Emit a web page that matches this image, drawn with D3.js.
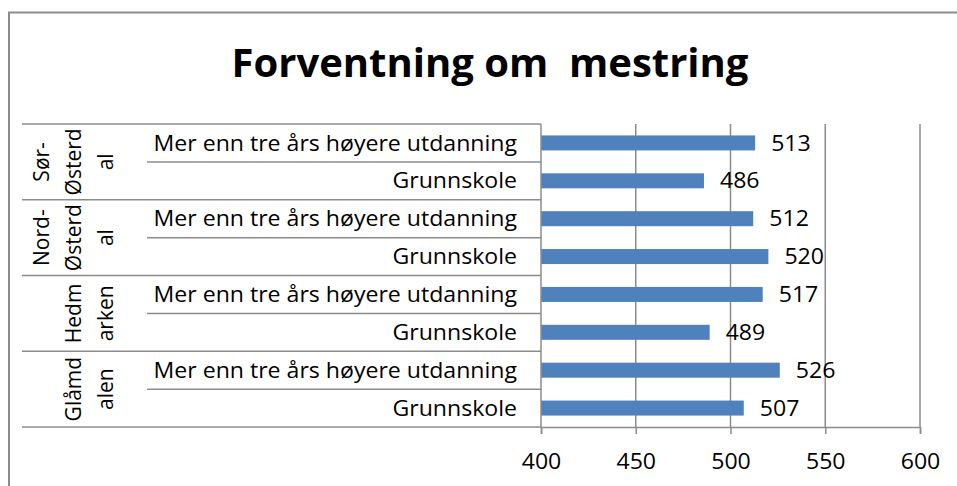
<!DOCTYPE html>
<html>
<head>
<meta charset="utf-8">
<script src="https://cdn.jsdelivr.net/npm/d3@7"></script>
<style>
  html, body { margin: 0; padding: 0; background: #fff; }
  svg { display: block; }
  text { font-family: "Open Sans", Lato, sans-serif; fill: #000; }
</style>
</head>
<body>
<svg id="chart" width="957" height="486"></svg>
<script>
// Regions and education levels
const regions = ["Sør-Østerdal", "Nord-Østerdal", "Hedmarken", "Glåmdalen"];
const regionLines = [["Sør-", "Østerd", "al"], ["Nord-", "Østerd", "al"], ["Hedm", "arken"], ["Glåmd", "alen"]];
const levels = ["Mer enn tre års høyere utdanning", "Grunnskole"];
// Scores per region, in the order of `levels`
const values = [
  [513, 486],
  [512, 520],
  [517, 489],
  [526, 507]
];
const xTicks = [400, 450, 500, 550, 600];
const title = "Forventning om  mestring";

const rows = [];
regions.forEach((r, i) => levels.forEach((l, j) => rows.push({ region: r, level: l, value: values[i][j], key: r + "|" + l })));

const svg = d3.select("#chart");
const plotL = 541, plotR = 920, plotT = 124, plotB = 427;
const grey = "#8c8c8c";
const fs = "21px";
const wide = 1.1; // horizontal stretch of the label font

const x = d3.scaleLinear().domain([400, 600]).range([plotL, plotR]);
const y = d3.scaleBand().domain(rows.map(d => d.key)).range([plotT, plotB]);
const barH = 15;

// outer frame (top and left edges)
svg.append("path").attr("d", "M9,486 V12.5 H957")
  .attr("fill", "none").attr("stroke", grey).attr("stroke-width", 2);

// title
svg.append("text").attr("x", 490).attr("y", 77).attr("text-anchor", "middle")
  .style("font-size", "40px").style("font-weight", "bold")
  .style("white-space", "pre").text(title);

// vertical gridlines
svg.append("g").selectAll("line").data(xTicks.slice(1)).join("line")
  .attr("x1", d => x(d)).attr("x2", d => x(d)).attr("y1", plotT).attr("y2", plotB)
  .attr("stroke", grey).attr("stroke-width", 1.5);

// bars
svg.append("g").selectAll("rect").data(rows).join("rect")
  .attr("x", x(400)).attr("y", d => y(d.key) + y.bandwidth() / 2 - barH / 2)
  .attr("width", d => x(d.value) - x(400)).attr("height", barH)
  .attr("fill", "#4f81bd");

// value labels
svg.append("g").selectAll("text").data(rows).join("text")
  .attr("transform", d => `translate(${x(d.value) + 16},${y(d.key) + y.bandwidth() / 2}) scale(${wide},1)`)
  .attr("dy", "0.36em").style("font-size", fs).text(d => d.value);

// bottom axis
const xAxis = svg.append("g").attr("transform", `translate(0,${plotB})`)
  .call(d3.axisBottom(x).tickValues(xTicks).tickSize(7).tickPadding(20).tickFormat(d3.format("d")));
xAxis.select(".domain").attr("stroke", grey).attr("stroke-width", 1.5);
xAxis.selectAll(".tick line").attr("stroke", grey).attr("stroke-width", 1.5);
xAxis.selectAll(".tick text").attr("transform", `scale(${wide},1)`)
  .style("font-size", fs).style("font-family", "'Open Sans', sans-serif").attr("fill", "#000");

// category axis line
svg.append("line").attr("x1", plotL).attr("x2", plotL).attr("y1", plotT).attr("y2", plotB)
  .attr("stroke", grey).attr("stroke-width", 1.5);

// row separators: between levels (short) and between regions (long)
const bounds = rows.map((d, i) => ({ y: y(d.key) + y.bandwidth(), regionEdge: i % 2 === 1 }));
bounds.unshift({ y: plotT, regionEdge: true });
svg.append("g").selectAll("line").data(bounds).join("line")
  .attr("x1", d => d.regionEdge ? 22 : 147).attr("x2", plotL)
  .attr("y1", d => d.y).attr("y2", d => d.y)
  .attr("stroke", grey).attr("stroke-width", 1.5);

// level labels
svg.append("g").selectAll("text").data(rows).join("text")
  .attr("transform", d => `translate(517,${y(d.key) + y.bandwidth() / 2}) scale(${wide},1)`)
  .attr("dy", "0.36em").attr("text-anchor", "end").style("font-size", fs)
  .text(d => d.level);

// region labels, rotated and wrapped
regions.forEach((r, i) => {
  const cy = y(r + "|" + levels[0]) + y.bandwidth();
  const lines = regionLines[i];
  lines.forEach((ln, k) => {
    const cx = 105 - (lines.length - 1 - k) * 32;
    svg.append("text")
      .attr("transform", `translate(${cx},${cy}) rotate(-90)`)
      .attr("text-anchor", "middle").attr("dy", "0.36em")
      .style("font-size", fs).text(ln);
  });
});
</script>
</body>
</html>
